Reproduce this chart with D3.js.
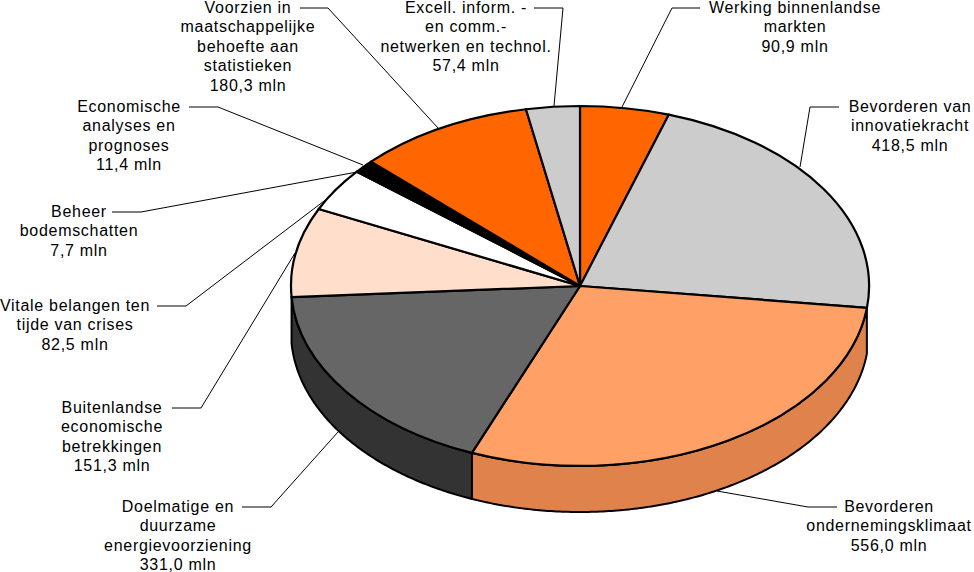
<!DOCTYPE html>
<html>
<head>
<meta charset="utf-8">
<script src="https://cdn.jsdelivr.net/npm/d3@7"></script>
<style>
  html, body { margin: 0; padding: 0; background: #fff; }
  svg { display: block; }
  text { font-family: "Liberation Sans", sans-serif; font-size: 16px; letter-spacing: 0.7px; fill: #000; }
</style>
</head>
<body>
<svg id="chart"></svg>
<script>
// Clockwise from the top
const names = [
  ["Werking binnenlandse", "markten"],
  ["Bevorderen van", "innovatiekracht"],
  ["Bevorderen", "ondernemingsklimaat"],
  ["Doelmatige en", "duurzame", "energievoorziening"],
  ["Buitenlandse", "economische", "betrekkingen"],
  ["Vitale belangen ten", "tijde van crises"],
  ["Beheer", "bodemschatten"],
  ["Economische", "analyses en", "prognoses"],
  ["Voorzien in", "maatschappelijke", "behoefte aan", "statistieken"],
  ["Excell. inform. -", "en comm.-", "netwerken en technol."]
];
// Printed values in mln
const valueLabels = ["90,9 mln", "418,5 mln", "556,0 mln", "331,0 mln", "151,3 mln", "82,5 mln", "7,7 mln", "11,4 mln", "180,3 mln", "57,4 mln"];
// Slice sizes as they are drawn in the picture, measured off its rim.
// The tilted drawing makes them differ a little from the printed values.
const drawnSizes = [93.8, 414.6, 550.4, 338.0, 151.5, 73.9, 9.1, 13.4, 186.0, 56.6];

const topColors = ["#ff6600", "#cccccc", "#ffa066", "#666666", "#ffdecc", "#ffffff", "#000000", "#000000", "#ff6600", "#cccccc"];
const wallColors = [null, null, "#e0824c", "#333333", null, null, null, null, null, null];

// Label placement: centre x, y of first line
const labelX = [795, 910, 889, 178, 112, 75, 79, 129, 248, 466];
const labelY = [7, 106, 506, 506, 407, 305, 211, 106, 7, 7];

// Leader lines: label end, elbow, tip on the pie
const leaders = [
  [[700, 8], [672, 8], [622, 107]],
  [[839, 107], [810, 107], [800, 167]],
  [[837, 507], [808, 507], [717, 491]],
  [[242, 507], [271, 507], [338, 432]],
  [[172, 408], [201, 408], [295, 253]],
  [[157, 306], [186, 306], [328, 198]],
  [[112, 212], [141, 212], [357, 172]],
  [[189, 107], [218, 107], [363, 165]],
  [[300, 8], [328, 8], [438, 128]],
  [[534, 8], [563, 8], [554, 106]]
];

const width = 974;
const height = 572;
const cx = 580;
const cy = 286;
const rx = 289;
const ry = 180;
const depth = 46;
const lineHeight = 19.5;

const svg = d3.select("#chart").attr("width", width).attr("height", height);

const slices = d3.pie().sort(null).value(d => d)(drawnSizes);

// Point on the rim of the tilted pie for a clockwise angle from the top
const rimX = a => cx + rx * Math.sin(a);
const rimY = a => cy - ry * Math.cos(a);

// Side walls
const wallLine = d3.line();
svg.append("g")
  .selectAll("path")
  .data(slices.filter(d => wallColors[d.index]))
  .join("path")
  .attr("d", d => {
    const angles = d3.range(d.startAngle, d.endAngle, 0.01).concat(d.endAngle);
    const upper = angles.map(a => [rimX(a), rimY(a)]);
    const lower = angles.slice().reverse().map(a => [rimX(a), rimY(a) + depth]);
    return wallLine(upper.concat(lower)) + "Z";
  })
  .attr("fill", d => wallColors[d.index])
  .attr("stroke", "#000")
  .attr("stroke-width", 2)
  .attr("stroke-linejoin", "round");

// Top of the pie
const arc = d3.arc().innerRadius(0).outerRadius(1);
svg.append("g")
  .attr("transform", `translate(${cx},${cy}) scale(${rx},${ry})`)
  .selectAll("path")
  .data(slices)
  .join("path")
  .attr("d", arc)
  .attr("fill", d => topColors[d.index])
  .attr("stroke", "#000")
  .attr("stroke-width", 2.2)
  .attr("stroke-linejoin", "round")
  .attr("vector-effect", "non-scaling-stroke");

// Leader lines
svg.append("g")
  .selectAll("path")
  .data(leaders)
  .join("path")
  .attr("d", d3.line())
  .attr("fill", "none")
  .attr("stroke", "#000")
  .attr("stroke-width", 1);

// Labels
const labels = svg.append("g")
  .selectAll("text")
  .data(names)
  .join("text")
  .attr("text-anchor", "middle")
  .attr("transform", (d, i) => `translate(${labelX[i]},${labelY[i]})`);

labels.selectAll("tspan")
  .data((d, i) => d.concat(valueLabels[i]))
  .join("tspan")
  .attr("x", 0)
  .attr("y", (d, i) => i * lineHeight + 5.5)
  .text(d => d);
</script>
</body>
</html>
